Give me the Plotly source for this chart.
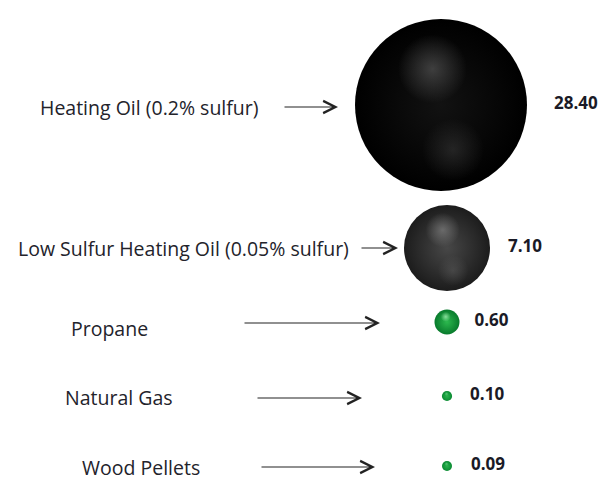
import numpy as np
import plotly.graph_objects as go

# ---- data ----
fuels = ["Heating Oil (0.2% sulfur)",
         "Low Sulfur Heating Oil (0.05% sulfur)",
         "Propane",
         "Natural Gas",
         "Wood Pellets"]
values = [28.40, 7.10, 0.60, 0.10, 0.09]
value_labels = ["28.40", "7.10", "0.60", "0.10", "0.09"]

# ---- layout (canvas coordinates, 1 unit = 1 px of the page) ----
W, H = 609, 481
OFF = 8  # page body margin
bubble_x = [441, 447, 447, 447, 447]
row_y = [105, 248, 322, 396, 466]
label_x = [38, 16, 69, 63, 80]
label_y = [107, 248, 328, 397, 467]
arrow_x0 = [283, 360, 243, 256, 260]
arrow_x1 = [338, 398, 380, 362, 375]
arrow_y = [107, 248, 323, 398, 467]
value_gap = [27, 18, 15, 18, 19]

edge_col = ["#000000", "#1c1c1c", "#087a2c", "#0a8a32", "#0a8a32"]
center_col = ["#121212", "#474747", "#2cb84e", "#2ab24c", "#2ab24c"]
hl_rgb = ["85,85,85", "135,135,135", "170,245,185", "140,230,165", "140,230,165"]
hl_alpha = [0.7, 0.65, 0.75, 0.5, 0.5]
hl2_rgb = ["70,70,70", "105,105,105", "40,170,70", "40,170,70", "40,170,70"]
hl2_alpha = [0.45, 0.4, 0.0, 0.0, 0.0]

max_d = 172.0
vals = np.array(values)
diam = max_d * np.sqrt(vals / vals.max())
diam = np.maximum(diam, 10)
bx = np.array(bubble_x, dtype=float)
by = np.array(row_y, dtype=float)

hl_center = [f"rgba({c},{a})" for c, a in zip(hl_rgb, hl_alpha)]
hl_edge = [f"rgba({c},0)" for c in hl_rgb]
hl2_center = [f"rgba({c},{a})" for c, a in zip(hl2_rgb, hl2_alpha)]
hl2_edge = [f"rgba({c},0)" for c in hl2_rgb]

fig = go.Figure()

# base spheres
fig.add_trace(go.Scatter(
    x=bx, y=by, mode="markers",
    marker=dict(size=diam, sizemode="diameter", color=edge_col, opacity=1,
                gradient=dict(type="radial", color=center_col),
                line=dict(width=0)),
    hoverinfo="skip", showlegend=False))

# upper highlight
fig.add_trace(go.Scatter(
    x=bx - 0.05 * diam, y=by - 0.21 * diam, mode="markers",
    marker=dict(size=0.4 * diam, sizemode="diameter", opacity=1,
                color=hl_edge,
                gradient=dict(type="radial", color=hl_center),
                line=dict(width=0)),
    hoverinfo="skip", showlegend=False))

# lower highlight
fig.add_trace(go.Scatter(
    x=bx + 0.07 * diam, y=by + 0.26 * diam, mode="markers",
    marker=dict(size=0.36 * diam, sizemode="diameter", opacity=1,
                color=hl2_edge,
                gradient=dict(type="radial", color=hl2_center),
                line=dict(width=0)),
    hoverinfo="skip", showlegend=False))

# value labels
fig.add_trace(go.Scatter(
    x=bx + diam / 2 + np.array(value_gap), y=by, mode="text",
    text=value_labels, textposition="middle right",
    textfont=dict(family="Open Sans", size=17, color="#1a1a26", weight="bold"),
    hoverinfo="skip", showlegend=False))

annotations = []
for i, name in enumerate(fuels):
    annotations.append(dict(
        x=label_x[i], y=label_y[i], xref="x", yref="y", text=name,
        showarrow=False, xanchor="left", yanchor="middle",
        font=dict(family="Open Sans", size=19.5, color="#23232b")))
    annotations.append(dict(
        x=arrow_x1[i], y=arrow_y[i], ax=arrow_x0[i], ay=arrow_y[i],
        xref="x", yref="y", axref="x", ayref="y", text="",
        showarrow=True, arrowhead=5, arrowsize=2.0, arrowwidth=1.2,
        arrowcolor="#222222"))

fig.update_layout(
    width=W, height=H,
    margin=dict(l=0, r=0, t=0, b=0),
    paper_bgcolor="white", plot_bgcolor="white",
    xaxis=dict(range=[OFF, W + OFF], visible=False, fixedrange=True),
    yaxis=dict(range=[H + OFF, OFF], visible=False, fixedrange=True),
    annotations=annotations,
)

fig.write_html("out.html")
